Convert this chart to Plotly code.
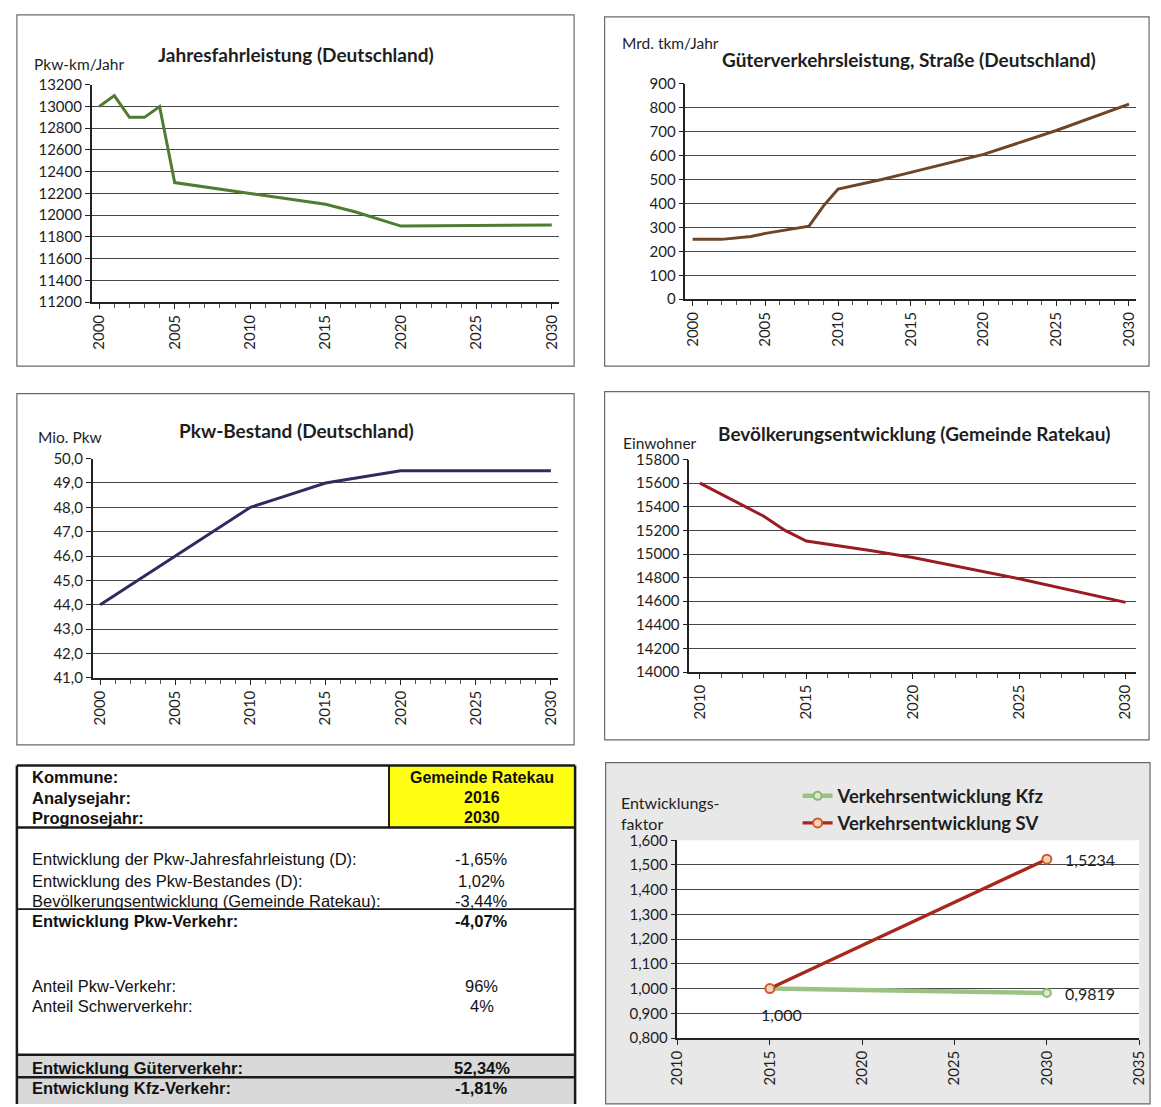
import plotly.graph_objects as go

# ---------------------------------------------------------------- data
fahr_years = [2000, 2001, 2002, 2003, 2004, 2005, 2010, 2015, 2017, 2020, 2030]
fahr_km = [13000, 13100, 12900, 12900, 13000, 12300, 12200, 12100, 12030, 11900, 11910]

gueter_years = [2000, 2002, 2004, 2005, 2008, 2009, 2010, 2013, 2015, 2020, 2025, 2030]
gueter_tkm = [250, 250, 262, 275, 305, 390, 460, 500, 530, 605, 705, 815]

bestand_years = [2000, 2005, 2010, 2012, 2015, 2020, 2030]
bestand_mio = [44.0, 46.0, 48.0, 48.4, 49.0, 49.5, 49.5]

einw_years = [2010, 2012, 2013, 2014, 2015, 2018, 2020, 2025, 2030]
einwohner = [15600, 15415, 15320, 15200, 15110, 15030, 14970, 14790, 14590]

prog_years = [2015, 2030]
faktor_kfz = [1.000, 0.9819]
faktor_sv = [1.000, 1.5234]

titles = [
    "Jahresfahrleistung (Deutschland)",
    "Güterverkehrsleistung, Straße (Deutschland)",
    "Pkw-Bestand (Deutschland)",
    "Bevölkerungsentwicklung (Gemeinde Ratekau)",
]
units = ["Pkw-km/Jahr", "Mrd. tkm/Jahr", "Mio. Pkw", "Einwohner", "Entwicklungs-<br>faktor"]
legend_names = ["Verkehrsentwicklung Kfz", "Verkehrsentwicklung SV"]

head_labels = ["Kommune:", "Analysejahr:", "Prognosejahr:"]
head_values = ["Gemeinde Ratekau", "2016", "2030"]
body_labels = [
    "Entwicklung der Pkw-Jahresfahrleistung (D):",
    "Entwicklung des Pkw-Bestandes (D):",
    "Bevölkerungsentwicklung (Gemeinde Ratekau):",
    "Entwicklung Pkw-Verkehr:",
    "Anteil Pkw-Verkehr:",
    "Anteil Schwerverkehr:",
    "Entwicklung Güterverkehr:",
    "Entwicklung Kfz-Verkehr:",
]
body_values = ["-1,65%", "1,02%", "-3,44%", "-4,07%", "96%", "4%", "52,34%", "-1,81%"]
body_bold = [False, False, False, True, False, False, True, True]

# ---------------------------------------------------------------- page helpers
W, H = 1161, 1107


def fx(px):
    return px / W


def fy(py):
    return 1 - py / H


def dec(v, n):
    return f"{v:.{n}f}".replace(".", ",")


FONT = "Lato"
TXT = "#1e1e1e"
GRID = "#474747"
TICKSIZE = 15

fig = go.Figure()

# ---------------------------------------------------------------- line panels
panels = [
    dict(xd=(83, 558), yd=(76, 297), xr=(1999.5, 2030.5), yr=(11200, 13200), dt=200, fmt="d"),
    dict(xd=(686, 1144), yd=(75, 294), xr=(1999.5, 2030.5), yr=(0, 900), dt=100, fmt="d"),
    dict(xd=(84, 557), yd=(456, 679), xr=(1999.5, 2030.5), yr=(41, 50), dt=1, fmt=".1f"),
    dict(xd=(690, 1144), yd=(457, 673), xr=(2009.5, 2030.5), yr=(14000, 15800), dt=200, fmt="d"),
]
series = [
    (fahr_years, fahr_km, "#4f7b33"),
    (gueter_years, gueter_tkm, "#6f4527"),
    (bestand_years, bestand_mio, "#34285e"),
    (einw_years, einwohner, "#991c22"),
]

layout_axes = {}
for i, (p, (xs, ys, col)) in enumerate(zip(panels, series), start=1):
    sx = "" if i == 1 else str(i)
    fig.add_trace(go.Scatter(
        x=xs, y=ys, mode="lines", line=dict(color=col, width=3),
        xaxis="x" + sx, yaxis="y" + sx, showlegend=False, hoverinfo="x+y",
    ))
    first = 2000 if p["xr"][0] < 2000 else 2010
    layout_axes["xaxis" + sx] = dict(
        domain=[fx(p["xd"][0]), fx(p["xd"][1])], anchor="y" + sx,
        range=list(p["xr"]), tickmode="linear", tick0=first, dtick=5,
        tickangle=-90, ticks="outside", ticklen=5, tickwidth=1, tickcolor="#222",
        minor=dict(tick0=first, dtick=1, ticks="outside", ticklen=4, tickcolor="#555", showgrid=False),
        showline=True, linecolor="#222", linewidth=1.5, showgrid=False, zeroline=False,
        tickfont=dict(family=FONT, size=TICKSIZE, color=TXT), fixedrange=True,
    )
    layout_axes["yaxis" + sx] = dict(
        domain=[fy(p["yd"][1]), fy(p["yd"][0])], anchor="x" + sx,
        range=list(p["yr"]), tickmode="linear", tick0=p["yr"][0], dtick=p["dt"],
        tickformat=p["fmt"], ticks="outside", ticklen=5, tickcolor="#222",
        showline=True, linecolor="#222", linewidth=1.5,
        showgrid=True, gridcolor=GRID, gridwidth=1.2, zeroline=False,
        tickfont=dict(family=FONT, size=TICKSIZE, color=TXT), fixedrange=True,
    )

# ---------------------------------------------------------------- forecast panel
fig.add_trace(go.Scatter(
    x=prog_years, y=faktor_kfz, name=legend_names[0], mode="lines+markers",
    line=dict(color="#9cc185", width=4.5),
    marker=dict(symbol="circle", size=8, color="#dbe9cf", line=dict(color="#8bb872", width=2)),
    xaxis="x5", yaxis="y5",
))
fig.add_trace(go.Scatter(
    x=prog_years, y=faktor_sv, name=legend_names[1], mode="lines+markers",
    line=dict(color="#a8291b", width=3.4),
    marker=dict(symbol="circle", size=9, color="#f6d2b8", line=dict(color="#cf5a26", width=2)),
    xaxis="x5", yaxis="y5",
))
layout_axes["xaxis5"] = dict(
    domain=[fx(678), fx(1147)], anchor="y5", range=[2010, 2035],
    tickmode="linear", tick0=2010, dtick=5, tickangle=-90,
    ticks="outside", ticklen=5, tickcolor="#222",
    showline=True, linecolor="#222", linewidth=1.5, showgrid=False, zeroline=False,
    tickfont=dict(family=FONT, size=TICKSIZE, color=TXT), fixedrange=True,
)
layout_axes["yaxis5"] = dict(
    domain=[fy(1045), fy(844)], anchor="x5", range=[0.8, 1.6],
    tickmode="linear", tick0=0.8, dtick=0.1, tickformat=".3f",
    ticks="outside", ticklen=5, tickcolor="#222",
    showline=True, linecolor="#222", linewidth=1.5,
    showgrid=True, gridcolor=GRID, gridwidth=1.2, zeroline=False,
    tickfont=dict(family=FONT, size=TICKSIZE, color=TXT), fixedrange=True,
)

annotations = []
shapes = []

# panel frames
for (x0, y0, x1, y1) in [(7, 5, 573, 362), (604, 7, 1157, 362), (7, 390, 573, 747), (604, 388, 1157, 742)]:
    shapes.append(dict(type="rect", xref="paper", yref="paper", x0=fx(x0), x1=fx(x1), y0=fy(y1), y1=fy(y0),
                       line=dict(color="#6a6a6a", width=1.2), fillcolor="rgba(0,0,0,0)", layer="below"))
# forecast panel frame (grey chart area, white plot area)
shapes.append(dict(type="rect", xref="paper", yref="paper", x0=fx(605), x1=fx(1158), y0=fy(1112), y1=fy(765),
                   line=dict(color="#6a6a6a", width=1.2), fillcolor="#e8e8e8", layer="below"))
shapes.append(dict(type="rect", xref="paper", yref="paper", x0=fx(678), x1=fx(1147), y0=fy(1045), y1=fy(844),
                   line=dict(width=0), fillcolor="white", layer="below"))

# titles and unit labels
title_pos = [(291, 45), (913, 50), (291, 427), (919, 430)]
unit_pos = [(22, 55), (620, 34), (26, 434), (621, 440)]
for t, (x, y) in zip(titles, title_pos):
    annotations.append(dict(text=t, x=fx(x), y=fy(y), xref="paper", yref="paper", showarrow=False,
                            xanchor="center", yanchor="middle",
                            font=dict(family=FONT, size=19, color=TXT, weight="bold")))
for u, (x, y) in zip(units[:4], unit_pos):
    annotations.append(dict(text=u, x=fx(x), y=fy(y), xref="paper", yref="paper", showarrow=False,
                            xanchor="left", yanchor="middle",
                            font=dict(family=FONT, size=15.5, color=TXT)))
annotations.append(dict(text=units[4], x=fx(619), y=fy(794), xref="paper", yref="paper", showarrow=False,
                        xanchor="left", yanchor="top", align="left",
                        font=dict(family=FONT, size=16, color=TXT)))

# value labels on the forecast lines
lab_font = dict(family=FONT, size=16, color=TXT)
annotations.append(dict(text=dec(faktor_sv[1], 4), x=prog_years[1], y=faktor_sv[1], xref="x5", yref="y5",
                        showarrow=False, xanchor="left", xshift=16, font=lab_font))
annotations.append(dict(text=dec(faktor_kfz[1], 4), x=prog_years[1], y=faktor_kfz[1], xref="x5", yref="y5",
                        showarrow=False, xanchor="left", xshift=16, font=lab_font))
annotations.append(dict(text=dec(faktor_kfz[0], 3), x=prog_years[0], y=faktor_kfz[0], xref="x5", yref="y5",
                        showarrow=False, xanchor="center", xshift=12, yshift=-26, font=lab_font))

# ---------------------------------------------------------------- summary table
TL, TR, TT, TB = 7, 574, 768, 1112
TFONT = "Liberation Sans"
shapes += [
    dict(type="rect", xref="paper", yref="paper", x0=fx(385), x1=fx(TR), y0=fy(831), y1=fy(TT),
         line=dict(width=0), fillcolor="#ffff14"),
    dict(type="rect", xref="paper", yref="paper", x0=fx(TL), x1=fx(TR), y0=fy(1085), y1=fy(1062),
         line=dict(width=0), fillcolor="#d9d9d9"),
    dict(type="rect", xref="paper", yref="paper", x0=fx(TL), x1=fx(TR), y0=fy(TB), y1=fy(1085),
         line=dict(width=0), fillcolor="#d9d9d9"),
]
for (x0, y0, x1, y1, w) in [
    (TL, TT, TR, TT, 2.5), (TL, TT, TL, TB, 2.5), (TR, TT, TR, TB, 2.5),
    (385, TT, 385, 831, 2), (TL, 831, TR, 831, 2.5), (TL, 914, TR, 914, 1.6),
    (TL, 1062, TR, 1062, 2.5), (TL, 1085, TR, 1085, 2.5),
]:
    shapes.append(dict(type="line", xref="paper", yref="paper", x0=fx(x0), x1=fx(x1), y0=fy(y0), y1=fy(y1),
                       line=dict(color="#1a1a1a", width=w)))

head_y = [780, 801, 821]
for lab, val, y in zip(head_labels, head_values, head_y):
    annotations.append(dict(text=lab, x=fx(20), y=fy(y), xref="paper", yref="paper", showarrow=False,
                            xanchor="left", yanchor="middle",
                            font=dict(family=TFONT, size=16.5, color="#111", weight="bold")))
    annotations.append(dict(text=val, x=fx(479), y=fy(y), xref="paper", yref="paper", showarrow=False,
                            xanchor="center", yanchor="middle",
                            font=dict(family=TFONT, size=16, color="#111", weight="bold")))
body_y = [863, 885, 906, 926, 992, 1012, 1075, 1096]
for lab, val, b, y in zip(body_labels, body_values, body_bold, body_y):
    f = dict(family=TFONT, size=16.5, color="#111", weight="bold" if b else "normal")
    annotations.append(dict(text=lab, x=fx(20), y=fy(y), xref="paper", yref="paper", showarrow=False,
                            xanchor="left", yanchor="middle", font=f))
    annotations.append(dict(text=val, x=fx(479), y=fy(y), xref="paper", yref="paper", showarrow=False,
                            xanchor="center", yanchor="middle", font=f))

fig.update_layout(
    width=W, height=H, autosize=False,
    margin=dict(l=0, r=0, t=0, b=0),
    paper_bgcolor="white", plot_bgcolor="white",
    separators=",.",
    showlegend=True,
    legend=dict(x=fx(800), y=fy(780), xanchor="left", yanchor="top",
                bgcolor="rgba(0,0,0,0)", borderwidth=0, itemwidth=30, tracegroupgap=0,
                font=dict(family=FONT, size=18.5, color=TXT, weight="bold")),
    shapes=shapes, annotations=annotations,
    **layout_axes,
)

fig.write_html("out.html")
